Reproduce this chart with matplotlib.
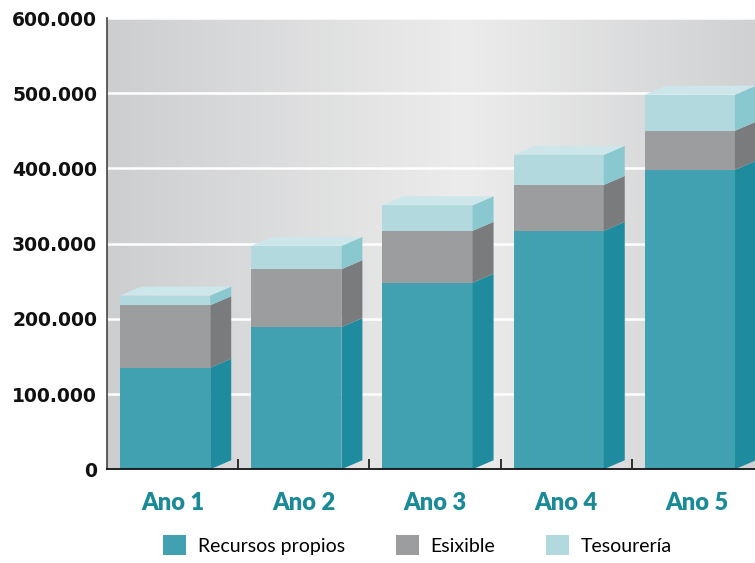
import matplotlib.pyplot as plt
import numpy as np
from matplotlib.patches import Patch, Polygon
from matplotlib.colors import LinearSegmentedColormap

# datos (euros)
anos = ['Ano 1', 'Ano 2', 'Ano 3', 'Ano 4', 'Ano 5']
recursos = [135000, 189000, 248000, 317000, 398000]
esixible = [83000, 77000, 69000, 61000, 52000]
tesoureria = [13000, 31000, 34000, 40000, 48000]

series = [
    ('Recursos propios', recursos, '#41a1b0', '#1e8c9e'),
    ('Esixible', esixible, '#9c9d9f', '#7a7b7d'),
    ('Tesourería', tesoureria, '#b2d9de', '#8ac8d0'),
]
top_color = '#cde6ea'

fig = plt.figure(figsize=(7.55, 5.63), dpi=100)
ax = fig.add_axes([107 / 755, 1 - 469.3 / 563, 648 / 755, (469.3 - 18) / 563])

ax.set_xlim(-0.5, 4.44)
ax.set_ylim(0, 600000)

# fondo degradado
cmap = LinearSegmentedColormap.from_list(
    'fondo', [(0, '#cdced0'), (0.55, '#ececec'), (1, '#d0d1d3')])
grad = np.linspace(0, 1, 256).reshape(1, -1)
ax.imshow(grad, cmap=cmap, aspect='auto', extent=(-0.5, 4.44, 0, 600000),
          zorder=0, interpolation='bilinear')

ax.grid(axis='y', color='white', linewidth=1.8, zorder=1)
ax.set_axisbelow(True)

w = 0.687   # ancho frontal
dx = 0.16   # profundidade
dy = 12000
x = np.arange(len(anos))
xl = x - 0.40
xr = xl + w

bottom = np.zeros(len(anos))
for name, vals, front, side in series:
    vals = np.array(vals)
    ax.bar(xl, vals, width=w, bottom=bottom, align='edge', color=front,
           linewidth=0, zorder=3)
    for i in range(len(anos)):
        y0, y1 = bottom[i], bottom[i] + vals[i]
        ax.add_patch(Polygon([(xr[i], y0), (xr[i] + dx, y0 + dy),
                              (xr[i] + dx, y1 + dy), (xr[i], y1)],
                             closed=True, facecolor=side, edgecolor='none',
                             zorder=3))
    bottom = bottom + vals

# tapa superior
for i in range(len(anos)):
    t = bottom[i]
    ax.add_patch(Polygon([(xl[i], t), (xl[i] + dx, t + dy),
                          (xr[i] + dx, t + dy), (xr[i], t)],
                         closed=True, facecolor=top_color, edgecolor='none',
                         zorder=3))

# eixos
ax.spines['top'].set_visible(False)
ax.spines['right'].set_visible(False)
ax.spines['left'].set_color('#444444')
ax.spines['left'].set_linewidth(1.2)
ax.spines['bottom'].set_color('#111111')
ax.spines['bottom'].set_linewidth(1.3)
ax.spines['bottom'].set_zorder(4)

yticks = np.arange(0, 600001, 100000)
ylabels = ['0' if v == 0 else f'{v // 1000}.000' for v in yticks]
ax.set_yticks(yticks, ylabels)
ax.tick_params(axis='y', length=0, pad=7)
for lbl in ax.get_yticklabels():
    lbl.set_fontfamily('DejaVu Sans')
    lbl.set_fontweight('bold')
    lbl.set_fontsize(13.5)
    lbl.set_color('#111111')

ax.set_xticks(x, anos)
ax.set_xticks(x[:-1] + 0.5, minor=True)
ax.tick_params(axis='x', which='major', length=0, pad=16)
ax.tick_params(axis='x', which='minor', direction='in', length=7, width=1.2,
               color='#111111')
for lbl in ax.get_xticklabels():
    lbl.set_fontfamily('Lato')
    lbl.set_fontweight('heavy')
    lbl.set_fontsize(17)
    lbl.set_color('#1a8a98')

handles = [Patch(facecolor=c, edgecolor='none', label=n) for n, _, c, _ in series]
fig.legend(handles=handles, loc='center', bbox_to_anchor=(0.553, 0.032),
           ncol=3, frameon=False, handlelength=1.2, handleheight=1.2,
           handletextpad=0.6, columnspacing=2.6,
           prop={'family': 'Lato', 'size': 14})

fig.savefig('out.png', dpi=100)
